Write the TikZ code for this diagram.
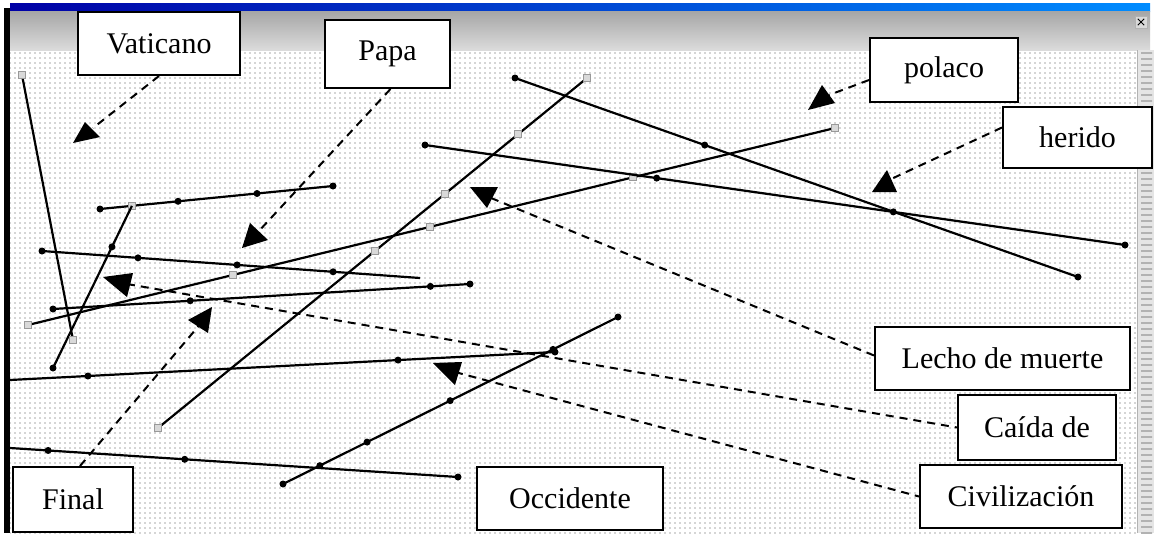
\documentclass[tikz,border=0pt]{standalone}
\usepackage{fontspec}
\setmainfont{Liberation Serif}
\usetikzlibrary{patterns.meta}
\begin{document}
\begin{tikzpicture}[x=1pt,y=-1pt,
  ln/.style={line width=2.2pt,black},
  dt/.style={circle,fill=black,inner sep=0pt,minimum size=7pt},
  gs/.style={rectangle,draw=gray!80,fill=gray!30,line width=1pt,inner sep=0pt,minimum size=7pt},
  lbl/.style={draw,line width=2pt,fill=white,font=\fontsize{30}{32}\selectfont,inner sep=0pt},
  trif/.style={fill=black},
  dsh/.style={line width=2pt,dash pattern=on 8pt off 6pt}]

\useasboundingbox (0,0) rectangle (1154,533);
\fill[white] (0,0) rectangle (1154,533);
% drawing canvas with dotted grid
\fill[pattern={Dots[distance=5pt,radius=0.9pt]},pattern color=gray!65] (10,50) rectangle (1137,533);
% window chrome
\shade[left color=blue!65!black,right color=blue!45!cyan] (10,3) rectangle (1150,11);
\shade[top color=gray!70,bottom color=gray!28] (10,11) rectangle (1150,50);
\fill[black] (4,8) rectangle (10,533);
\fill[gray!20] (1137,50) rectangle (1154,533);
\fill[pattern={Lines[angle=0,distance=6pt,line width=1.5pt]},pattern color=gray!60] (1141,50) rectangle (1152,533);
\draw[gray!60,line width=1pt] (1137,50) -- (1137,533);
\node[draw=gray!60,fill=gray!30,minimum size=12pt,inner sep=0pt] (cls) at (1141,22) {};
\draw[line width=1pt] ([xshift=3pt,yshift=-3pt]cls.north west) -- ([xshift=-3pt,yshift=3pt]cls.south east)
                      ([xshift=-3pt,yshift=-3pt]cls.north east) -- ([xshift=3pt,yshift=3pt]cls.south west);

% line end points
\coordinate (a1) at (22,75);   \coordinate (a2) at (73,340);
\coordinate (b1) at (100,209); \coordinate (b2) at (333,186);
\coordinate (c1) at (53,368);
\coordinate (d1) at (42,251);  \coordinate (d2) at (420,278);
\coordinate (e1) at (53,309);  \coordinate (e2) at (470,284);
\coordinate (f1) at (28,325);  \coordinate (f2) at (835,128);
\coordinate (g1) at (425,145); \coordinate (g2) at (1125,245);
\coordinate (h1) at (515,78);  \coordinate (h2) at (1078,277);
\coordinate (i1) at (158,428); \coordinate (i2) at (587,78);
\coordinate (j1) at (10,380);  \coordinate (j2) at (555,352);
\coordinate (k1) at (283,484); \coordinate (k2) at (618,317);
\coordinate (l1) at (10,448);  \coordinate (l2) at (458,477);

% solid lines with markers
\draw[ln] (a1) -- (a2);
\draw[ln] (b1) -- node[gs,pos=0.137](b3){} node[dt,pos=0.335](b4){} node[dt,pos=0.674](b5){} (b2);
\draw[ln] (c1) -- node[dt,pos=0.747](c3){} (b3.center);
\draw[ln] (d1) -- node[dt,pos=0.254](d3){} node[dt,pos=0.516](d4){} node[dt,pos=0.77](d5){} (d2);
\draw[ln] (e1) -- node[dt,pos=0.329](e3){} node[dt,pos=0.905](e4){} (e2);
\draw[ln] (f1) -- node[gs,pos=0.254](f3){} node[gs,pos=0.498](f4){} node[gs,pos=0.75](f5){} (f2);
\draw[ln] (g1) -- node[dt,pos=0.331](g3){} node[dt,pos=0.669](g4){} (g2);
\draw[ln] (h1) -- node[dt,pos=0.337](h3){} (h2);
\draw[ln] (i1) -- node[gs,pos=0.506](i3){} node[gs,pos=0.669](i4){} node[gs,pos=0.839](i5){} (i2);
\draw[ln] (j1) -- node[dt,pos=0.143](j3){} node[dt,pos=0.712](j4){} (j2);
\draw[ln] (k1) -- node[dt,pos=0.11](k3){} node[dt,pos=0.251](k4){} node[dt,pos=0.499](k5){} node[dt,pos=0.806](k6){} (k2);
\draw[ln] (l1) -- node[dt,pos=0.085](l3){} node[dt,pos=0.39](l4){} (l2);

% end markers
\node[gs] (a1m) at (a1) {}; \node[gs] (a2m) at (a2) {};
\node[dt] (b1m) at (b1) {}; \node[dt] (b2m) at (b2) {};
\node[dt] (c1m) at (c1) {};
\node[dt] (d1m) at (d1) {};
\node[dt] (e1m) at (e1) {}; \node[dt] (e2m) at (e2) {};
\node[gs] (f1m) at (f1) {}; \node[gs] (f2m) at (f2) {};
\node[dt] (g1m) at (g1) {}; \node[dt] (g2m) at (g2) {};
\node[dt] (h1m) at (h1) {}; \node[dt] (h2m) at (h2) {};
\node[gs] (i1m) at (i1) {}; \node[gs] (i2m) at (i2) {};
\node[dt] (j2m) at (j2) {};
\node[dt] (k1m) at (k1) {}; \node[dt] (k2m) at (k2) {};
\node[dt] (l2m) at (l2) {};

% label boxes
\node[lbl,minimum width=162pt,minimum height=63pt] (vat) at (159,43.5) {Vaticano};
\node[lbl,minimum width=125pt,minimum height=68pt] (pap) at (387.5,54) {Papa};
\node[lbl,minimum width=148pt,minimum height=64pt] (pol) at (944,70) {polaco};
\node[lbl,minimum width=149pt,minimum height=61pt] (her) at (1077.5,137.5) {herido};
\node[lbl,minimum width=255pt,minimum height=63pt] (lec) at (1002.5,358.5) {Lecho de muerte};
\node[lbl,minimum width=158pt,minimum height=65pt] (cai) at (1037,427.5) {Caída de};
\node[lbl,minimum width=202pt,minimum height=63pt] (civ) at (1021,496.5) {Civilización};
\node[lbl,minimum width=120pt,minimum height=65pt] (fin) at (73,499.5) {Final};
\node[lbl,minimum width=186pt,minimum height=63pt] (occ) at (570,498.5) {Occidente};

% triangles (arrowheads) and their attach points
\fill[trif] (85,122) -- (73,143) -- (100,137) -- cycle;   \coordinate (tv)  at (93,128);
\fill[trif] (250,223) -- (242,248) -- (268,240) -- cycle; \coordinate (tp)  at (258,232);
\fill[trif] (822,85) -- (808,110) -- (835,103) -- cycle;  \coordinate (tpo) at (829,95);
\fill[trif] (887,170) -- (872,192) -- (897,192) -- cycle; \coordinate (th)  at (889,180);
\fill[trif] (470,187) -- (498,187) -- (487,208) -- cycle; \coordinate (tl)  at (491,198);
\fill[trif] (103,277) -- (133,273) -- (127,297) -- cycle; \coordinate (tc)  at (127,284);
\fill[trif] (433,363) -- (462,362) -- (455,385) -- cycle; \coordinate (tci) at (455,372);
\fill[trif] (188,320) -- (212,307) -- (208,333) -- cycle; \coordinate (tf)  at (202,322);

% dashed connectors
\draw[dsh] (vat.south) -- (tv);
\draw[dsh] ([xshift=3pt]pap.south) -- (tp);
\draw[dsh] ([yshift=-10pt]pol.west) -- (tpo);
\draw[dsh] ([yshift=10pt]her.west) -- (th);
\draw[dsh] (tl) -- ([yshift=3pt]lec.west);
\draw[dsh] (tc) -- (cai.west);
\draw[dsh] (tci) -- (civ.west);
\draw[dsh] ([xshift=7pt]fin.north) -- (tf);
\end{tikzpicture}
\end{document}
